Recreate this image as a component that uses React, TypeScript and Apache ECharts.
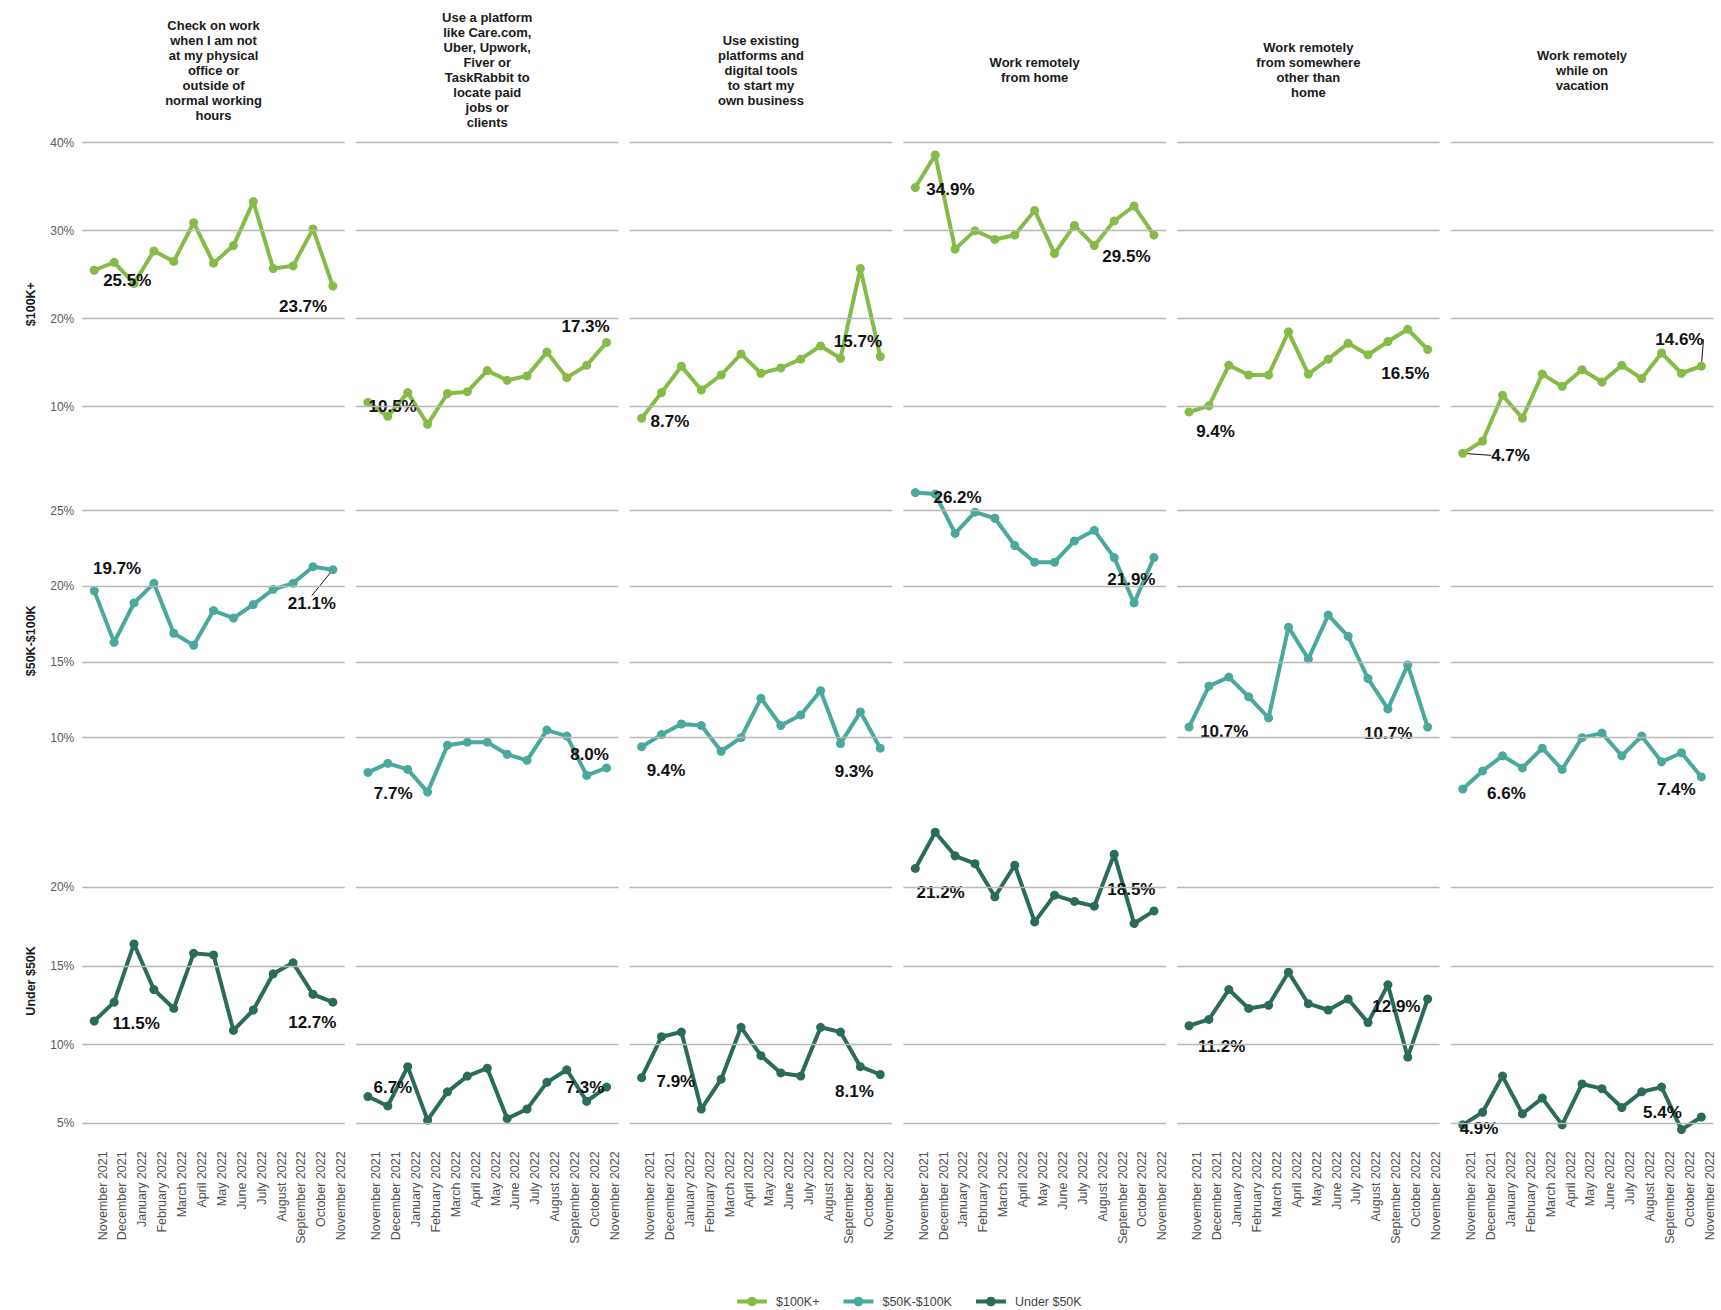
import React, { useEffect, useRef } from "react";
import * as echarts from "echarts";

// ---------- DATA ----------
const months = [
  "November 2021", "December 2021", "January 2022", "February 2022", "March 2022",
  "April 2022", "May 2022", "June 2022", "July 2022", "August 2022",
  "September 2022", "October 2022", "November 2022",
];

const topicTitles = [
  "Check on work\nwhen I am not\nat my physical\noffice or\noutside of\nnormal working\nhours",
  "Use a platform\nlike Care.com,\nUber, Upwork,\nFiver or\nTaskRabbit to\nlocate paid\njobs or\nclients",
  "Use existing\nplatforms and\ndigital tools\nto start my\nown business",
  "Work remotely\nfrom home",
  "Work remotely\nfrom somewhere\nother than\nhome",
  "Work remotely\nwhile on\nvacation",
];

const incomeGroups = ["$100K+", "$50K-$100K", "Under $50K"];

// $100K+
const high_checkWork = [25.5, 26.4, 24.0, 27.7, 26.5, 30.9, 26.3, 28.3, 33.3, 25.7, 26.0, 30.2, 23.7];
const high_platformJobs = [10.5, 8.9, 11.6, 8.0, 11.5, 11.7, 14.1, 13.0, 13.5, 16.2, 13.3, 14.7, 17.3];
const high_ownBusiness = [8.7, 11.6, 14.6, 11.9, 13.6, 16.0, 13.8, 14.4, 15.4, 16.9, 15.5, 25.7, 15.7];
const high_fromHome = [34.9, 38.6, 27.9, 30.0, 29.0, 29.5, 32.3, 27.4, 30.6, 28.3, 31.1, 32.8, 29.5];
const high_elsewhere = [9.4, 10.1, 14.7, 13.6, 13.6, 18.5, 13.7, 15.4, 17.2, 15.9, 17.4, 18.8, 16.5];
const high_vacation = [4.7, 6.1, 11.3, 8.7, 13.7, 12.3, 14.2, 12.8, 14.7, 13.2, 16.1, 13.8, 14.6];

// $50K-$100K
const mid_checkWork = [19.7, 16.3, 18.9, 20.2, 16.9, 16.1, 18.4, 17.9, 18.8, 19.8, 20.2, 21.3, 21.1];
const mid_platformJobs = [7.7, 8.3, 7.9, 6.4, 9.5, 9.7, 9.7, 8.9, 8.5, 10.5, 10.1, 7.5, 8.0];
const mid_ownBusiness = [9.4, 10.2, 10.9, 10.8, 9.1, 10.0, 12.6, 10.8, 11.5, 13.1, 9.6, 11.7, 9.3];
const mid_fromHome = [26.2, 26.1, 23.5, 24.9, 24.5, 22.7, 21.6, 21.6, 23.0, 23.7, 21.9, 18.9, 21.9];
const mid_elsewhere = [10.7, 13.4, 14.0, 12.7, 11.3, 17.3, 15.2, 18.1, 16.7, 13.9, 11.9, 14.8, 10.7];
const mid_vacation = [6.6, 7.8, 8.8, 8.0, 9.3, 7.9, 10.0, 10.3, 8.8, 10.1, 8.4, 9.0, 7.4];

// Under $50K
const low_checkWork = [11.5, 12.7, 16.4, 13.5, 12.3, 15.8, 15.7, 10.9, 12.2, 14.5, 15.2, 13.2, 12.7];
const low_platformJobs = [6.7, 6.1, 8.6, 5.2, 7.0, 8.0, 8.5, 5.3, 5.9, 7.6, 8.4, 6.4, 7.3];
const low_ownBusiness = [7.9, 10.5, 10.8, 5.9, 7.8, 11.1, 9.3, 8.2, 8.0, 11.1, 10.8, 8.6, 8.1];
const low_fromHome = [21.2, 23.5, 22.0, 21.5, 19.4, 21.4, 17.8, 19.5, 19.1, 18.8, 22.1, 17.7, 18.5];
const low_elsewhere = [11.2, 11.6, 13.5, 12.3, 12.5, 14.6, 12.6, 12.2, 12.9, 11.4, 13.8, 9.2, 12.9];
const low_vacation = [4.9, 5.7, 8.0, 5.6, 6.6, 4.9, 7.5, 7.2, 6.0, 7.0, 7.3, 4.6, 5.4];

const highTicks = [10, 20, 30, 40];
const midTicks = [10, 15, 20, 25];
const lowTicks = [5, 10, 15, 20];

const rowSeries = [
  [high_checkWork, high_platformJobs, high_ownBusiness, high_fromHome, high_elsewhere, high_vacation],
  [mid_checkWork, mid_platformJobs, mid_ownBusiness, mid_fromHome, mid_elsewhere, mid_vacation],
  [low_checkWork, low_platformJobs, low_ownBusiness, low_fromHome, low_elsewhere, low_vacation],
];
const rowTicks = [highTicks, midTicks, lowTicks];

// ---------- LAYOUT / STYLE ----------
const FONT = "'Liberation Sans', Arial, Helvetica, sans-serif";
const COLORS = ["#86bb48", "#4aa99c", "#2b6b5b"];
const PANEL_LEFT0 = 82.3;
const PANEL_STRIDE = 273.7;
const PANEL_W = 262.5;
const ROWS = [
  { top: 140.0, height: 328.3, min: 3.0, max: 40.3 },
  { top: 477.4, height: 326.8, min: 5.6, max: 27.2 },
  { top: 816.5, height: 328.8, min: 3.6, max: 24.5 },
];
const LABEL_SHIFT = 0.42;

// label offsets [first, last] in px relative to the point
const LABEL_OFFSETS: number[][][][] = [
  [
    [[33, 10.4], [-29.8, 20.6]],
    [[24.7, 4], [-21, -15.7]],
    [[28.3, 3.6], [-22.3, -14.8]],
    [[35.1, 1.8], [-27.5, 21.6]],
    [[26.5, 19.8], [-22.4, 23.8]],
    [[47.8, 2], [-22, -26.9]],
  ],
  [
    [[22.9, -22.6], [-21, 34.3]],
    [[25.3, 20.8], [-17, -12.9]],
    [[24.4, 23.3], [-26.2, 23.5]],
    [[42.2, 4.8], [-22.6, 22.4]],
    [[35.2, 4.6], [-39.5, 6.9]],
    [[43.7, 4.2], [-25.1, 13]],
  ],
  [
    [[42, 2.3], [-20.6, 20.6]],
    [[24.9, -9.2], [-21.6, 0.2]],
    [[34.2, 4.1], [-25.8, 17.2]],
    [[25.3, 24.3], [-22.6, -20.9]],
    [[32.6, 20.3], [-31.3, 7.7]],
    [[16.3, 4], [-39, -4.3]],
  ],
];
const LEADERS: Record<string, boolean> = {
  "0-5-0": true,
  "0-5-1": true,
  "1-0-1": true,
};

function buildOption() {
  const grid: any[] = [];
  const xAxis: any[] = [];
  const yAxis: any[] = [];
  const series: any[] = [];
  const graphic: any[] = [];

  for (let r = 0; r < 3; r++) {
    const row = ROWS[r];
    for (let p = 0; p < 6; p++) {
      const idx = r * 6 + p;
      const left = PANEL_LEFT0 + p * PANEL_STRIDE;
      grid.push({ left, top: row.top, width: PANEL_W, height: row.height, containLabel: false });
      xAxis.push({
        gridIndex: idx,
        type: "value",
        min: 0.4,
        max: 13.6,
        axisLine: { show: false },
        axisTick: { show: false },
        splitLine: { show: false },
        axisLabel:
          r === 2
            ? {
                show: true,
                rotate: 90,
                margin: 6,
                fontSize: 12.5,
                color: "#505050",
                fontFamily: FONT,
                customValues: months.map((_, i) => i + 1 + LABEL_SHIFT),
                formatter: (val: number) => months[Math.round(val - LABEL_SHIFT) - 1] ?? "",
              }
            : { show: false },
      });
      yAxis.push({
        gridIndex: idx,
        type: "value",
        min: row.min,
        max: row.max,
        axisLine: { show: false },
        axisTick: { show: false },
        axisLabel: { show: false },
        splitLine: { show: false },
      });

      // gridlines (and tick labels in first column)
      series.push({
        type: "line",
        name: `grid-${idx}`,
        xAxisIndex: idx,
        yAxisIndex: idx,
        data: [],
        z: 1,
        silent: true,
        markLine: {
          silent: true,
          symbol: "none",
          animation: false,
          lineStyle: { color: "#b8b8b8", width: 1.3, type: "solid" },
          label: {
            show: p === 0,
            position: "start",
            distance: 8,
            formatter: (prm: any) => `${prm.value}%`,
            fontSize: 12,
            color: "#5a5a5a",
            fontFamily: FONT,
          },
          emphasis: { disabled: true },
          data: rowTicks[r].map((t) => ({ yAxis: t })),
        },
      });

      const values = rowSeries[r][p];
      const offsets = LABEL_OFFSETS[r][p];
      const color = COLORS[r];
      series.push({
        type: "line",
        name: incomeGroups[r],
        xAxisIndex: idx,
        yAxisIndex: idx,
        z: 3,
        symbol: "circle",
        symbolSize: 9,
        showSymbol: true,
        lineStyle: { width: 4, color },
        itemStyle: { color },
        emphasis: { disabled: true },
        data: values.map((v, i) => {
          const k = i === 0 ? 0 : i === values.length - 1 ? 1 : -1;
          if (k < 0) return { value: [i + 1, v] };
          const leader = LEADERS[`${r}-${p}-${k}`];
          return {
            value: [i + 1, v],
            label: {
              show: true,
              position: "inside",
              align: "center",
              verticalAlign: "middle",
              formatter: `${v.toFixed(1)}%`,
              fontSize: 17,
              fontWeight: "bold",
              color: "#111",
              fontFamily: FONT,
            },
            labelLine: leader
              ? { show: true, lineStyle: { color: "#111", width: 1 } }
              : { show: false },
          };
        }),
        labelLayout: (params: any) => {
          const last = values.length - 1;
          const k = params.dataIndex === 0 ? 0 : params.dataIndex === last ? 1 : -1;
          if (k < 0) return {};
          return { dx: offsets[k][0], dy: offsets[k][1] };
        },
      });

      if (r === 0) {
        graphic.push({
          type: "text",
          x: left + PANEL_W / 2,
          y: 70,
          style: {
            text: topicTitles[p],
            fill: "#1a1a1a",
            font: `bold 13px ${FONT}`,
            lineHeight: 15,
            align: "center",
            verticalAlign: "middle",
          },
        });
      }
    }
    graphic.push({
      type: "text",
      x: 31,
      y: row.top + row.height / 2,
      rotation: Math.PI / 2,
      style: {
        text: incomeGroups[r],
        fill: "#1a1a1a",
        font: `bold 12.5px ${FONT}`,
        align: "center",
        verticalAlign: "middle",
      },
    });
  }

  return {
    animation: false,
    backgroundColor: "#ffffff",
    textStyle: { fontFamily: FONT },
    grid,
    xAxis,
    yAxis,
    series,
    graphic,
    legend: {
      data: incomeGroups,
      left: 730,
      top: 1290,
      itemWidth: 30,
      itemHeight: 12,
      itemGap: 22,
      lineStyle: { width: 4 },
      textStyle: { fontSize: 12.5, color: "#444", fontFamily: FONT, padding: [0, 0, 0, 4] },
    },
  };
}

export default function App() {
  const ref = useRef<HTMLDivElement>(null);
  useEffect(() => {
    document.body.style.margin = "0";
    if (!ref.current) return;
    const chart = echarts.init(ref.current, undefined, { renderer: "svg" });
    chart.setOption(buildOption() as any);
    return () => chart.dispose();
  }, []);
  return (
    <div
      ref={ref}
      style={{ position: "absolute", left: 0, top: 0, width: 1721, height: 1310, background: "#fff" }}
    />
  );
}
